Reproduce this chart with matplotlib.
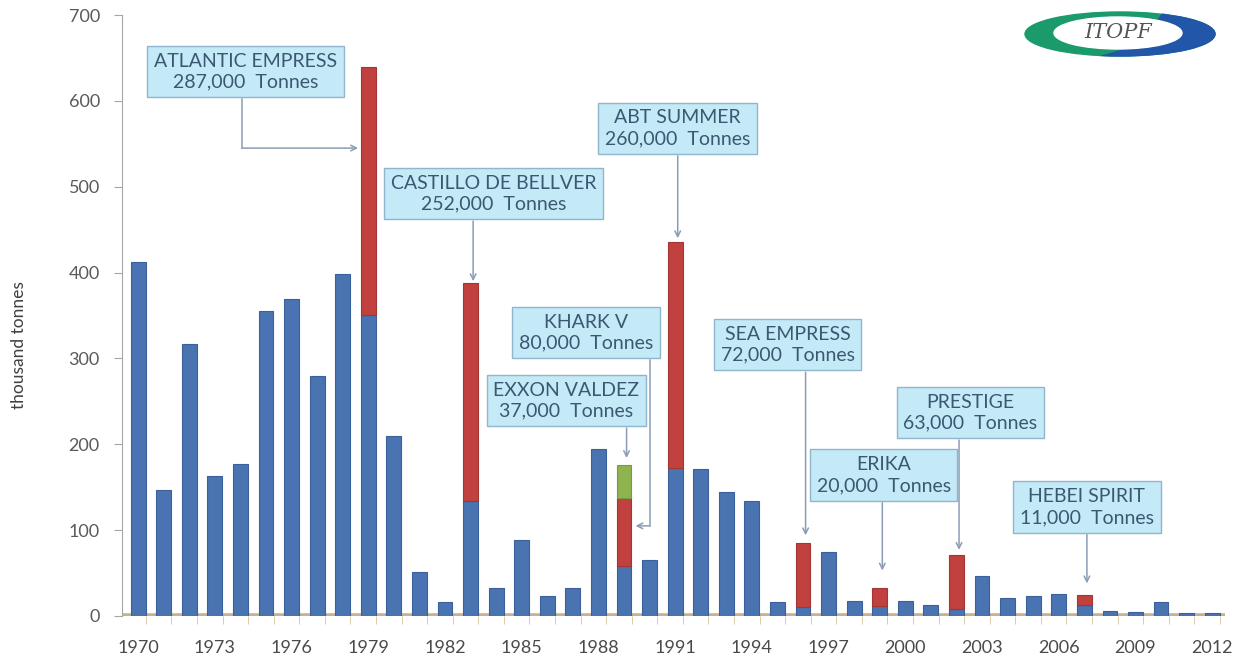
import numpy as np
import matplotlib
matplotlib.use("Agg")
import matplotlib.pyplot as plt
from matplotlib.patches import Ellipse, Polygon

plt.rcParams['font.family'] = ['Lato', 'DejaVu Sans']

# data (thousand tonnes)
years = list(range(1970, 2013))
other_spills = [412, 147, 317, 163, 177, 355, 369, 280, 398, 351, 210, 51, 16, 134,
                33, 89, 23, 33, 194, 58, 65, 172, 171, 144, 134, 16, 11, 75, 17, 12,
                18, 13, 8, 47, 21, 23, 26, 13, 6, 5, 16, 4, 4]
major_years = [1979, 1983, 1989, 1991, 1996, 1999, 2002, 2007]
major_values = [288, 254, 80, 264, 74, 21, 63, 11]
exxon_year = 1989
exxon_value = 38

# annotations: name, tonnes, year, box centre (x, y), gap above bar
ann_names = ["ATLANTIC EMPRESS", "CASTILLO DE BELLVER", "ABT SUMMER", "KHARK V",
             "EXXON VALDEZ", "SEA EMPRESS", "ERIKA", "PRESTIGE", "HEBEI SPIRIT"]
ann_tonnes = ["287,000", "252,000", "260,000", "80,000", "37,000", "72,000",
              "20,000", "63,000", "11,000"]
ann_years = [1979, 1983, 1991, 1989, 1989, 1996, 1999, 2002, 2007]
ann_box_x = [1974.2, 1983.9, 1991.1, 1987.5, 1986.75, 1995.4, 1999.15, 2002.55, 2007.1]
ann_box_y = [634, 492, 568, 330, 251, 316, 164, 237, 127]
ann_gap = [0, 2, 4, 0, 8, 9, 20, 6, 14]

blue = np.array(other_spills, dtype=float)
red = np.zeros(len(years))
for y, v in zip(major_years, major_values):
    red[years.index(y)] = v
green = np.zeros(len(years))
green[years.index(exxon_year)] = exxon_value
total = blue + red + green

fig = plt.figure(figsize=(12.39, 6.57), dpi=100)
ax = fig.add_axes([122 / 1239, 41 / 657, 1103 / 1239, 601 / 657])

ax.axhline(0, color='#c6b290', lw=4, zorder=1)
w = 0.58
ax.bar(years, blue, w, color='#4a73b2', edgecolor='#3b609a',
       linewidth=[0.8 if v > 0 else 0 for v in blue], zorder=2)
ax.bar(years, red, w, bottom=blue, color='#c0413e', edgecolor='#a33532',
       linewidth=[0.8 if v > 0 else 0 for v in red], zorder=2)
ax.bar(years, green, w, bottom=blue + red, color='#8fb34e', edgecolor='#7a9a40',
       linewidth=[0.8 if v > 0 else 0 for v in green], zorder=2)

ax.set_xlim(1969.37, 2012.5)
ax.set_ylim(0, 700)
ax.set_yticks(range(0, 701, 100))
ax.set_xticks(years[::3])
ax.set_xticks([y + 0.3 for y in years], minor=True)
for s in ['top', 'right', 'bottom']:
    ax.spines[s].set_visible(False)
ax.spines['left'].set_color('#a6a6a6')
ax.tick_params(axis='y', colors='#a6a6a6', labelcolor='#5a5a5a', labelsize=13, length=6, pad=10)
ax.tick_params(axis='x', which='major', length=0, labelcolor='#4a4a4a', labelsize=13, pad=17)
ax.tick_params(axis='x', which='minor', length=6, color='#d8c49a')
fig.text(19 / 1239, 1 - 345 / 657, 'thousand tonnes', rotation=90, ha='center', va='center',
         fontsize=12.5, color='#404040')

box = dict(boxstyle='square,pad=0.35', fc='#c4eaf8', ec='#8fb6cc', lw=1)
arrow = dict(arrowstyle='->', color='#8a9db5', lw=1.1, shrinkA=0, shrinkB=0)
for name, t, yr, bx, by, gap in zip(ann_names, ann_tonnes, ann_years, ann_box_x, ann_box_y, ann_gap):
    ax.text(bx, by, name + "\n" + t + "  Tonnes", ha='center', va='center', fontsize=14,
            color='#3b5870', linespacing=1.28, bbox=box, zorder=5)
    bottom = by - 32
    i = years.index(yr)
    if name == "ATLANTIC EMPRESS":
        ax.plot([1974.05, 1974.05], [bottom, 545], color='#8a9db5', lw=1.1)
        ax.annotate('', xy=(yr - 0.4, 545), xytext=(1974.05, 545), arrowprops=arrow)
    elif name == "KHARK V":
        ax.plot([1990.0, 1990.0], [bottom, 105], color='#8a9db5', lw=1.1)
        ax.annotate('', xy=(yr + 0.45, 105), xytext=(1990.0, 105), arrowprops=arrow)
    else:
        ax.annotate('', xy=(yr + 0.1, total[i] + gap), xytext=(yr + 0.1, bottom), arrowprops=arrow)

# ITOPF logo
lax = fig.add_axes([1020 / 1239, 1 - 62 / 657, 200 / 1239, 56 / 657])
lax.set_xlim(0, 200)
lax.set_ylim(0, 56)
lax.axis('off')
lax.add_patch(Ellipse((100, 28), 190, 44, color='#1b9a6c'))
blue_part = Ellipse((100, 28), 190, 44, color='#2256a8')
lax.add_patch(blue_part)
clip = Polygon([(150, 60), (200, 60), (200, 0), (60, 0), (120, 18)], transform=lax.transData)
blue_part.set_clip_path(clip)
lax.add_patch(Ellipse((98, 29), 128, 32, color='white'))
lax.text(98, 29, 'ITOPF', ha='center', va='center', fontsize=15, style='italic',
         family='DejaVu Serif', color='#555555')

fig.savefig('out.png', dpi=100)
